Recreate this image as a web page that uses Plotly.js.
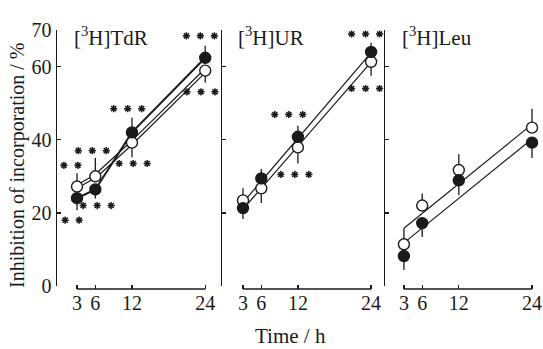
<!DOCTYPE html>
<html>
<head>
<meta charset="utf-8">
<script src="https://cdn.plot.ly/plotly-3.0.1.min.js"></script>
<style>html,body{margin:0;padding:0;background:#fff;}#chart{width:543px;height:349px;}</style>
</head>
<body>
<div id="chart"></div>
<script>
// ---- data ----
const timeH = [3, 6, 12, 24];
const xTickVals = [3, 6, 12, 24];
const xTickText = ["3", "6", "12", "24"];
const yTickVals = [0, 20, 40, 60, 70];
const yTickText = ["0", "20", "40", "60", "70"];
const panelTitles = ["[<sup>3</sup>H]TdR", "[<sup>3</sup>H]UR", "[<sup>3</sup>H]Leu"];

// [3H]TdR
const tdrOpen = [27.2, 30.0, 39.2, 58.9];
const tdrOpenErrPlus = [3.6, 5.0, 0, 0];
const tdrOpenErrMinus = [0, 0, 4.0, 3.3];
const tdrFilled = [24.0, 26.4, 42.0, 62.4];
const tdrFilledErrPlus = [0, 0, 4.0, 3.3];
const tdrFilledErrMinus = [3.3, 2.5, 0, 0];

// [3H]UR
const urOpen = [23.4, 26.7, 37.9, 61.3];
const urOpenErrPlus = [3.3, 0, 0, 0];
const urOpenErrMinus = [0, 4.0, 4.4, 3.8];
const urFilled = [21.3, 29.4, 40.8, 64.0];
const urFilledErrPlus = [0, 2.6, 3.0, 2.5];
const urFilledErrMinus = [3.0, 0, 0, 0];
const urFitX = [3, 24];
const urFitOpen = [21.0, 61.2];
const urFitFilled = [22.8, 63.8];

// [3H]Leu
const leuOpen = [11.4, 22.0, 31.7, 43.3];
const leuOpenErrPlus = [4.4, 3.3, 4.3, 5.2];
const leuOpenErrMinus = [0, 0, 0, 0];
const leuFilled = [8.2, 17.2, 28.9, 39.2];
const leuFilledErrPlus = [0, 0, 0, 0];
const leuFilledErrMinus = [3.8, 3.8, 4.1, 4.2];
const leuFitX = [3, 24];
const leuFitOpen = [15.8, 44.2];
const leuFitFilled = [11.8, 40.2];

// significance marks: [panel, time (group centre), value, number of stars]
const sigMarks = [
  [1, 2.0, 33.0, 2], [1, 5.5, 37.0, 3], [1, 11.3, 48.5, 3], [1, 12.2, 33.5, 3],
  [1, 23.2, 68.4, 3], [1, 23.3, 53.1, 3], [1, 6.3, 22.0, 3], [1, 2.2, 18.0, 2],
  [2, 23.1, 68.9, 3], [2, 23.1, 54.0, 3], [2, 10.5, 46.9, 3], [2, 11.5, 30.5, 3]
];

// ---- layout geometry (pixels) ----
const W = 543, H = 349;
const ink = "#1a1a1a";
const serif = "Liberation Serif, Times New Roman, serif";
const panelPx = [[57, 215], [222, 380], [385, 543]];
const xRanges = [[-0.28, 25.6], [-0.44, 25.46], [-0.1, 25.8]];
const yDomain = [(H - 286) / H, (H - 30) / H];
const xAxisPos = (H - 289) / H;
const starGapPx = 14;

function ax(i) { return i === 0 ? "" : String(i + 1); }

const traces = [];
function errBar(plus, minus) {
  return {type: "data", symmetric: false, array: plus, arrayminus: minus,
          color: ink, thickness: 1.3, width: 0};
}
function markerTrace(i, y, filled, plus, minus) {
  return {x: timeH, y: y, xaxis: "x" + ax(i), yaxis: "y" + ax(i), mode: "markers",
    type: "scatter", showlegend: false, hoverinfo: "skip", cliponaxis: false,
    error_y: errBar(plus, minus),
    marker: {symbol: "circle", size: 11, color: filled ? ink : "#ffffff",
             line: {color: ink, width: 1.4}}};
}
function lineTrace(i, x, y, color, width) {
  return {x: x, y: y, xaxis: "x" + ax(i), yaxis: "y" + ax(i), mode: "lines",
    type: "scatter", showlegend: false, hoverinfo: "skip", cliponaxis: false,
    line: {color: color, width: width}};
}

// Panel 1: connected points; open line drawn as outlined white line
traces.push(lineTrace(0, timeH, tdrOpen, ink, 4.2));
traces.push(lineTrace(0, timeH, tdrOpen, "#ffffff", 1.8));
traces.push(lineTrace(0, timeH, tdrFilled, ink, 2.0));
traces.push(markerTrace(0, tdrOpen, false, tdrOpenErrPlus, tdrOpenErrMinus));
traces.push(markerTrace(0, tdrFilled, true, tdrFilledErrPlus, tdrFilledErrMinus));

// Panel 2
traces.push(lineTrace(1, urFitX, urFitOpen, ink, 1.2));
traces.push(lineTrace(1, urFitX, urFitFilled, ink, 1.2));
traces.push(markerTrace(1, urOpen, false, urOpenErrPlus, urOpenErrMinus));
traces.push(markerTrace(1, urFilled, true, urFilledErrPlus, urFilledErrMinus));

// Panel 3
traces.push(lineTrace(2, leuFitX, leuFitOpen, ink, 1.2));
traces.push(lineTrace(2, leuFitX, leuFitFilled, ink, 1.2));
traces.push(markerTrace(2, leuOpen, false, leuOpenErrPlus, leuOpenErrMinus));
traces.push(markerTrace(2, leuFilled, true, leuFilledErrPlus, leuFilledErrMinus));

// significance stars as asterisk markers
[0, 1].forEach(function (pi) {
  const pxPerH = (panelPx[pi][1] - panelPx[pi][0]) / (xRanges[pi][1] - xRanges[pi][0]);
  const sx = [], sy = [];
  sigMarks.filter(function (m) { return m[0] === pi + 1; }).forEach(function (m) {
    for (let k = 0; k < m[3]; k++) {
      sx.push(m[1] + (k - (m[3] - 1) / 2) * starGapPx / pxPerH);
      sy.push(m[2]);
    }
  });
  traces.push({x: sx, y: sy, xaxis: "x" + ax(pi), yaxis: "y" + ax(pi), mode: "markers",
    type: "scatter", showlegend: false, hoverinfo: "skip", cliponaxis: false,
    marker: {symbol: "asterisk-open", size: 6, color: ink, line: {color: ink, width: 1.5}}});
});

const layout = {
  width: W, height: H,
  margin: {l: 0, r: 0, t: 0, b: 0},
  paper_bgcolor: "#ffffff", plot_bgcolor: "rgba(0,0,0,0)",
  font: {family: serif, color: ink, size: 20},
  showlegend: false,
  shapes: [], annotations: []
};

for (let i = 0; i < 3; i++) {
  const s = ax(i);
  layout["xaxis" + s] = {
    domain: [panelPx[i][0] / W, panelPx[i][1] / W], range: xRanges[i],
    anchor: "free", position: xAxisPos,
    showgrid: false, zeroline: false, showline: false,
    tickmode: "array", tickvals: xTickVals, ticktext: xTickText,
    ticks: "inside", ticklen: 4, tickwidth: 1.3, tickcolor: ink,
    tickfont: {family: serif, size: 20, color: ink}, fixedrange: true
  };
  layout["yaxis" + s] = {
    domain: yDomain, range: [0, 70], anchor: "x" + s,
    showgrid: false, zeroline: false, showline: true, linecolor: ink, linewidth: 1.5,
    tickmode: "array", tickvals: yTickVals, ticktext: yTickText,
    ticks: "inside", ticklen: 4, tickwidth: 1.3, tickcolor: ink,
    showticklabels: i === 0,
    tickfont: {family: serif, size: 20, color: ink}, fixedrange: true
  };
  layout.shapes.push({type: "line", xref: "x" + s, yref: "paper",
    x0: xTickVals[0], x1: xTickVals[xTickVals.length - 1], y0: xAxisPos, y1: xAxisPos,
    line: {color: ink, width: 1.5}});
  layout.annotations.push({xref: "paper", yref: "paper",
    x: [72, 236, 400][i] / W, y: (H - 36) / H, xanchor: "left", yanchor: "middle",
    text: panelTitles[i], showarrow: false, font: {family: serif, size: 21, color: ink}});
}

layout.annotations.push({xref: "paper", yref: "paper", x: 17 / W, y: (H - 165) / H,
  text: "Inhibition of incorporation / %", textangle: -90, showarrow: false,
  xanchor: "center", yanchor: "middle", font: {family: serif, size: 20, color: ink}});
layout.annotations.push({xref: "paper", yref: "paper", x: 290 / W, y: (H - 336) / H,
  text: "Time / h", showarrow: false, xanchor: "center", yanchor: "middle",
  font: {family: serif, size: 21, color: ink}});

Plotly.newPlot("chart", traces, layout, {staticPlot: true, displayModeBar: false});
</script>
</body>
</html>
